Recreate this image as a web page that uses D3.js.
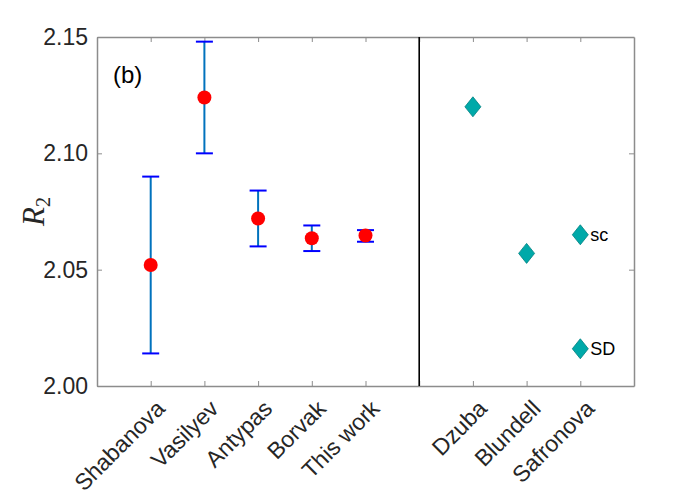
<!DOCTYPE html>
<html lang="en">
<head>
  <meta charset="UTF-8">
  <title>R2 comparison</title>
  <script src="https://d3js.org/d3.v7.min.js"></script>
  <style>
    body { margin: 0; background: #fff; }
    text { font-family: 'Liberation Sans', Arial, sans-serif; fill: #262626; }
    .tick text { font-size: 23px; fill: #262626; }
    .xaxis .tick text { font-size: 23px; }
  </style>
</head>
<body>
  <svg width="700" height="500"></svg>
  <script>
    // Measurements (left panel, with error bars)
    const expNames = ["Shabanova", "Vasilyev", "Antypas", "Borvak", "This work"];
    const expPos = [1, 2, 3, 4, 5];
    const expValue = [2.052, 2.124, 2.072, 2.0635, 2.0647];
    const expLow = [2.014, 2.100, 2.060, 2.058, 2.062];
    const expHigh = [2.090, 2.148, 2.084, 2.069, 2.067];

    // Theory (right panel, diamonds)
    const theoNames = ["Dzuba", "Blundell", "Safronova", "Safronova"];
    const theoPos = [7, 8, 9, 9];
    const theoValue = [2.120, 2.057, 2.065, 2.016];
    const theoNotes = ["", "", "sc", "SD"];

    const tickPos = [1, 2, 3, 4, 5, 7, 8, 9];
    const tickLabels = ["Shabanova", "Vasilyev", "Antypas", "Borvak", "This work", "Dzuba", "Blundell", "Safronova"];
    const yTicks = [2.00, 2.05, 2.10, 2.15];

    const svg = d3.select("svg");
    const margin = { top: 37, right: 66, bottom: 114, left: 97 };
    const width = +svg.attr("width") - margin.left - margin.right;
    const height = +svg.attr("height") - margin.top - margin.bottom;
    const g = svg.append("g").attr("transform", `translate(${margin.left},${margin.top})`);

    const x = d3.scaleLinear().domain([0, 10]).range([0, width]);
    const y = d3.scaleLinear().domain([2.00, 2.15]).range([height, 0]);

    const axisColor = "#8c8c8c";

    // Axes (MATLAB style, inward ticks, boxed)
    const xAxis = g.append("g")
      .attr("class", "xaxis")
      .attr("transform", `translate(0,${height})`)
      .call(d3.axisBottom(x).tickValues(tickPos.concat([6])).tickSizeInner(-5).tickSizeOuter(0)
        .tickFormat(d => { const i = tickPos.indexOf(d); return i < 0 ? "" : tickLabels[i]; }));
    xAxis.selectAll(".tick text")
      .attr("text-anchor", "end")
      .attr("transform", "translate(15,24) rotate(-45)")
      .attr("dy", 0)
      .attr("y", 0);

    g.append("g")
      .call(d3.axisTop(x).tickValues(tickPos.concat([6])).tickSizeInner(-5).tickSizeOuter(0).tickFormat(""));

    g.append("g")
      .call(d3.axisLeft(y).tickValues(yTicks).tickSizeInner(-5).tickSizeOuter(0).tickPadding(9)
        .tickFormat(d3.format(".2f")));

    g.append("g")
      .attr("transform", `translate(${width},0)`)
      .call(d3.axisRight(y).tickValues(yTicks).tickSizeInner(-5).tickSizeOuter(0).tickFormat(""));

    g.selectAll(".domain").attr("stroke", axisColor).attr("stroke-width", 1.5);
    g.selectAll(".tick line").attr("stroke", axisColor);

    // Divider
    g.append("line")
      .attr("x1", x(6)).attr("x2", x(6))
      .attr("y1", 0).attr("y2", height)
      .attr("stroke", "#000").attr("stroke-width", 1.6);

    // Panel label
    g.append("text")
      .attr("x", 16).attr("y", 46)
      .style("font-size", "24px")
      .style("fill", "#000")
      .text("(b)");

    // Y label
    const yl = svg.append("text")
      .attr("transform", `translate(44,${margin.top + height / 2}) rotate(-90)`)
      .attr("text-anchor", "middle")
      .style("font-family", "'Liberation Serif', 'DejaVu Serif', serif")
      .style("fill", "#262626");
    yl.append("tspan").style("font-style", "italic").style("font-size", "31px").text("R");
    yl.append("tspan").attr("dy", 6).style("font-size", "20px").text("2");

    // Error bars
    const capW = 8.5;
    expPos.forEach((p, i) => {
      g.append("line")
        .attr("x1", x(p)).attr("x2", x(p))
        .attr("y1", y(expLow[i])).attr("y2", y(expHigh[i]))
        .attr("stroke", "#0072BD").attr("stroke-width", 2);
      [expLow[i], expHigh[i]].forEach(v => {
        g.append("line")
          .attr("x1", x(p) - capW).attr("x2", x(p) + capW)
          .attr("y1", y(v)).attr("y2", y(v))
          .attr("stroke", "#0000FF").attr("stroke-width", 2);
      });
    });

    g.selectAll("circle.exp")
      .data(expValue)
      .enter().append("circle")
      .attr("class", "exp")
      .attr("cx", (d, i) => x(expPos[i]))
      .attr("cy", d => y(d))
      .attr("r", 7)
      .attr("fill", "#FF0000");

    // Diamonds
    const diamond = "M0,-10L8,0L0,10L-8,0Z";
    g.selectAll("path.theo")
      .data(theoValue)
      .enter().append("path")
      .attr("class", "theo")
      .attr("d", diamond)
      .attr("transform", (d, i) => `translate(${x(theoPos[i])},${y(d)})`)
      .attr("fill", "#00A9A9")
      .attr("stroke", "#008080")
      .attr("stroke-width", 0.8);

    g.selectAll("text.note")
      .data(theoValue)
      .enter().append("text")
      .attr("class", "note")
      .attr("x", (d, i) => x(theoPos[i]) + 10)
      .attr("y", d => y(d))
      .attr("dy", "0.35em")
      .style("font-size", "18px")
      .style("fill", "#000")
      .text((d, i) => theoNotes[i]);
  </script>
</body>
</html>
